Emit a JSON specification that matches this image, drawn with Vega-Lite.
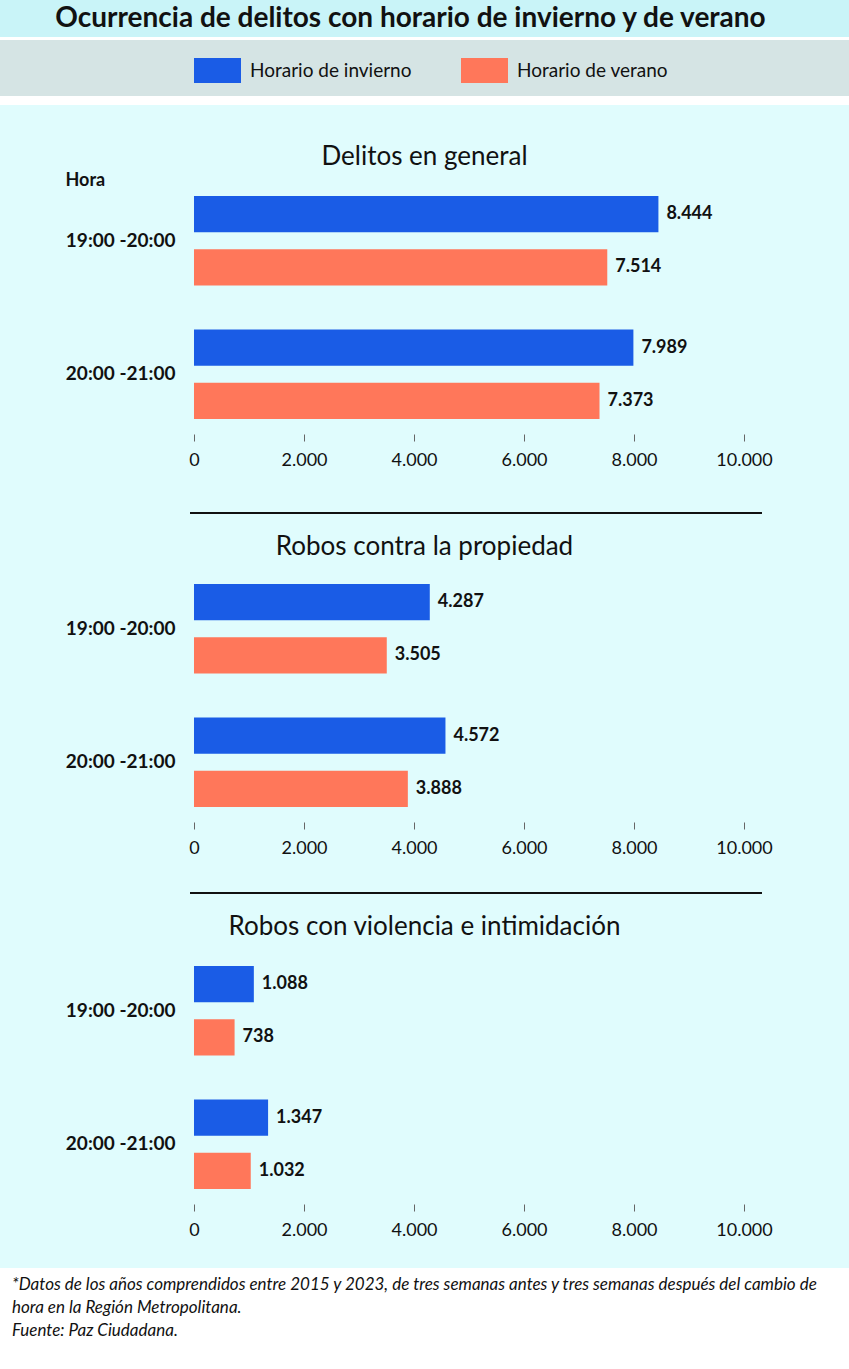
{
  "$schema": "https://vega.github.io/schema/vega-lite/v6.json",
  "description": "Ocurrencia de delitos con horario de invierno y de verano",
  "padding": 0,
  "background": "#e0fcfd",
  "config": {
    "font": "Lato",
    "view": {"stroke": null},
    "locale": {"number": {"decimal": ",", "thousands": ".", "grouping": [3], "currency": ["$", ""]}},
    "title": {"font": "Lato", "fontSize": 26, "fontWeight": "normal", "color": "#111", "anchor": "middle", "baseline": "bottom"},
    "axisX": {
      "format": ",d",
      "domain": false,
      "grid": false,
      "ticks": true,
      "tickSize": -7,
      "tickColor": "#666",
      "labelFontSize": 18,
      "labelColor": "#111",
      "labelPadding": 17,
      "labelFlush": false,
      "labelOverlap": false,
      "title": null
    },
    "axisY": {
      "offset": -178,
      "domain": false,
      "ticks": false,
      "grid": false,
      "labelAlign": "right",
      "labelPadding": 3,
      "labelFontSize": 19,
      "labelFontWeight": "bold",
      "labelColor": "#111"
    }
  },
  "datasets": {
    "delitos": [
      {"panel": "general", "hora": "19:00 -20:00", "horario": "Horario de invierno", "valor": 8444},
      {"panel": "general", "hora": "19:00 -20:00", "horario": "Horario de verano", "valor": 7514},
      {"panel": "general", "hora": "20:00 -21:00", "horario": "Horario de invierno", "valor": 7989},
      {"panel": "general", "hora": "20:00 -21:00", "horario": "Horario de verano", "valor": 7373},
      {"panel": "propiedad", "hora": "19:00 -20:00", "horario": "Horario de invierno", "valor": 4287},
      {"panel": "propiedad", "hora": "19:00 -20:00", "horario": "Horario de verano", "valor": 3505},
      {"panel": "propiedad", "hora": "20:00 -21:00", "horario": "Horario de invierno", "valor": 4572},
      {"panel": "propiedad", "hora": "20:00 -21:00", "horario": "Horario de verano", "valor": 3888},
      {"panel": "violencia", "hora": "19:00 -20:00", "horario": "Horario de invierno", "valor": 1088},
      {"panel": "violencia", "hora": "19:00 -20:00", "horario": "Horario de verano", "valor": 738},
      {"panel": "violencia", "hora": "20:00 -21:00", "horario": "Horario de invierno", "valor": 1347},
      {"panel": "violencia", "hora": "20:00 -21:00", "horario": "Horario de verano", "valor": 1032}
    ]
  },
  "resolve": {"scale": {"x": "independent", "y": "independent"}},
  "spacing": 0,
  "bounds": "flush",
  "vconcat": [
    {
      "width": 849,
      "height": 37,
      "view": {"fill": "#c9f4f8"},
      "data": {"values": [{"t": "Ocurrencia de delitos con horario de invierno y de verano"}]},
      "mark": {"type": "text", "fontSize": 28, "fontWeight": "bold", "color": "#111", "dx": -14, "baseline": "middle"},
      "encoding": {"text": {"field": "t"}}
    },
    {"width": 849, "height": 3, "view": {"fill": "white"}, "data": {"values": []}, "mark": "point"},
    {"width": 849, "height": 56, "view": {"fill": "#d5e4e4"}, "data": {"values": []}, "mark": "point"},
    {"width": 849, "height": 9, "view": {"fill": "white"}, "data": {"values": []}, "mark": "point"},
    {"width": 849, "height": 69, "data": {"values": []}, "mark": "point"},
    {
      "width": 849,
      "height": 267,
      "title": {"text": "Delitos en general", "offset": 1},
      "data": {"name": "delitos"},
      "transform": [{"filter": "datum.panel == 'general'"}],
      "encoding": {
        "x": {"field": "valor", "type": "quantitative", "scale": {"domain": [-3527.27, 11909.09], "nice": false, "zero": false},
          "axis": {"values": [0, 2000, 4000, 6000, 8000, 10000]}}
      },
      "layer": [
        {
          "mark": {"type": "bar"},
          "encoding": {
            "y": {"field": "hora", "type": "nominal", "scale": {"paddingInner": 0.328, "paddingOuter": 0.164},
              "axis": {"title": "Hora", "titleAngle": 0, "titleAlign": "left", "titleBaseline": "middle", "titleX": -113, "titleY": 6, "titleFontSize": 18, "titleFontWeight": "bold", "titleColor": "#111"}},
            "yOffset": {"field": "horario", "scale": {"paddingInner": 0.318, "paddingOuter": 0}},
            "color": {"field": "horario", "type": "nominal",
              "scale": {"domain": ["Horario de invierno", "Horario de verano"], "range": ["#1a5ce6", "#ff775a"]},
              "legend": {"orient": "none", "legendX": 194, "legendY": 47, "direction": "horizontal", "title": null, "padding": 0,
                "symbolType": "M-1,-0.53H1V0.53H-1Z", "symbolSize": 2209, "symbolStrokeWidth": 0, "symbolOpacity": 1,
                "labelFontSize": 19, "labelLimit": 400, "labelColor": "#111", "labelOffset": 9, "columnPadding": 49}}
          }
        },
        {
          "mark": {"type": "text", "align": "left", "baseline": "middle", "dx": 8, "fontSize": 18, "fontWeight": "bold", "color": "#111"},
          "encoding": {
            "y": {"field": "hora", "type": "nominal"},
            "yOffset": {"field": "horario"},
            "text": {"field": "valor", "type": "quantitative", "format": ",d"}
          }
        },
        {
          "data": {"values": [{}]},
          "mark": {"type": "rule", "color": "#666", "strokeWidth": 1},
          "encoding": {"x": {"datum": 0}, "x2": {"datum": 10000}, "y": {"value": "height"}}
        }
      ]
    },
    {"width": 849, "height": 71, "data": {"values": []}, "mark": "point"},
    {
      "width": 849,
      "height": 2,
      "data": {"values": [{}]},
      "mark": {"type": "rule", "color": "#111", "strokeWidth": 2},
      "encoding": {
        "x": {"datum": -72.7, "type": "quantitative", "scale": {"domain": [-3527.27, 11909.09], "nice": false, "zero": false}, "axis": null},
        "x2": {"datum": 10327}
      }
    },
    {"width": 849, "height": 48, "data": {"values": []}, "mark": "point"},
    {
      "width": 849,
      "height": 267,
      "title": {"text": "Robos contra la propiedad", "offset": 2},
      "data": {"name": "delitos"},
      "transform": [{"filter": "datum.panel == 'propiedad'"}],
      "encoding": {
        "x": {"field": "valor", "type": "quantitative", "scale": {"domain": [-3527.27, 11909.09], "nice": false, "zero": false},
          "axis": {"values": [0, 2000, 4000, 6000, 8000, 10000]}}
      },
      "layer": [
        {
          "mark": {"type": "bar"},
          "encoding": {
            "y": {"field": "hora", "type": "nominal", "scale": {"paddingInner": 0.328, "paddingOuter": 0.164}, "axis": {"title": null}},
            "yOffset": {"field": "horario", "scale": {"paddingInner": 0.318, "paddingOuter": 0}},
            "color": {"field": "horario", "type": "nominal",
              "scale": {"domain": ["Horario de invierno", "Horario de verano"], "range": ["#1a5ce6", "#ff775a"]},
              "legend": {"orient": "none", "legendX": 194, "legendY": 47, "direction": "horizontal", "title": null, "padding": 0,
                "symbolType": "M-1,-0.53H1V0.53H-1Z", "symbolSize": 2209, "symbolStrokeWidth": 0, "symbolOpacity": 1,
                "labelFontSize": 19, "labelLimit": 400, "labelColor": "#111", "labelOffset": 9, "columnPadding": 49}}
          }
        },
        {
          "mark": {"type": "text", "align": "left", "baseline": "middle", "dx": 8, "fontSize": 18, "fontWeight": "bold", "color": "#111"},
          "encoding": {
            "y": {"field": "hora", "type": "nominal"},
            "yOffset": {"field": "horario"},
            "text": {"field": "valor", "type": "quantitative", "format": ",d"}
          }
        },
        {
          "data": {"values": [{}]},
          "mark": {"type": "rule", "color": "#666", "strokeWidth": 1},
          "encoding": {"x": {"datum": 0}, "x2": {"datum": 10000}, "y": {"value": "height"}}
        }
      ]
    },
    {"width": 849, "height": 63, "data": {"values": []}, "mark": "point"},
    {
      "width": 849,
      "height": 2,
      "data": {"values": [{}]},
      "mark": {"type": "rule", "color": "#111", "strokeWidth": 2},
      "encoding": {
        "x": {"datum": -72.7, "type": "quantitative", "scale": {"domain": [-3527.27, 11909.09], "nice": false, "zero": false}, "axis": null},
        "x2": {"datum": 10327}
      }
    },
    {"width": 849, "height": 50, "data": {"values": []}, "mark": "point"},
    {
      "width": 849,
      "height": 267,
      "title": {"text": "Robos con violencia e intimidación", "offset": 4},
      "data": {"name": "delitos"},
      "transform": [{"filter": "datum.panel == 'violencia'"}],
      "encoding": {
        "x": {"field": "valor", "type": "quantitative", "scale": {"domain": [-3527.27, 11909.09], "nice": false, "zero": false},
          "axis": {"values": [0, 2000, 4000, 6000, 8000, 10000]}}
      },
      "layer": [
        {
          "mark": {"type": "bar"},
          "encoding": {
            "y": {"field": "hora", "type": "nominal", "scale": {"paddingInner": 0.328, "paddingOuter": 0.164}, "axis": {"title": null}},
            "yOffset": {"field": "horario", "scale": {"paddingInner": 0.318, "paddingOuter": 0}},
            "color": {"field": "horario", "type": "nominal",
              "scale": {"domain": ["Horario de invierno", "Horario de verano"], "range": ["#1a5ce6", "#ff775a"]},
              "legend": {"orient": "none", "legendX": 194, "legendY": 47, "direction": "horizontal", "title": null, "padding": 0,
                "symbolType": "M-1,-0.53H1V0.53H-1Z", "symbolSize": 2209, "symbolStrokeWidth": 0, "symbolOpacity": 1,
                "labelFontSize": 19, "labelLimit": 400, "labelColor": "#111", "labelOffset": 9, "columnPadding": 49}}
          }
        },
        {
          "mark": {"type": "text", "align": "left", "baseline": "middle", "dx": 8, "fontSize": 18, "fontWeight": "bold", "color": "#111"},
          "encoding": {
            "y": {"field": "hora", "type": "nominal"},
            "yOffset": {"field": "horario"},
            "text": {"field": "valor", "type": "quantitative", "format": ",d"}
          }
        },
        {
          "data": {"values": [{}]},
          "mark": {"type": "rule", "color": "#666", "strokeWidth": 1},
          "encoding": {"x": {"datum": 0}, "x2": {"datum": 10000}, "y": {"value": "height"}}
        }
      ]
    },
    {"width": 849, "height": 57, "data": {"values": []}, "mark": "point"},
    {
      "width": 849,
      "height": 101,
      "view": {"fill": "white"},
      "title": {
        "text": [
          "*Datos de los años comprendidos entre 2015 y 2023, de tres semanas antes y tres semanas después del cambio de",
          "hora en la Región Metropolitana.",
          "Fuente: Paz Ciudadana."
        ],
        "orient": "top", "anchor": "start", "frame": "group", "offset": -72, "dx": 12, "limit": 840,
        "baseline": "top", "fontSize": 17, "fontStyle": "italic", "fontWeight": "normal", "lineHeight": 23, "color": "#111"
      },
      "data": {"values": []},
      "mark": "point"
    }
  ]
}
